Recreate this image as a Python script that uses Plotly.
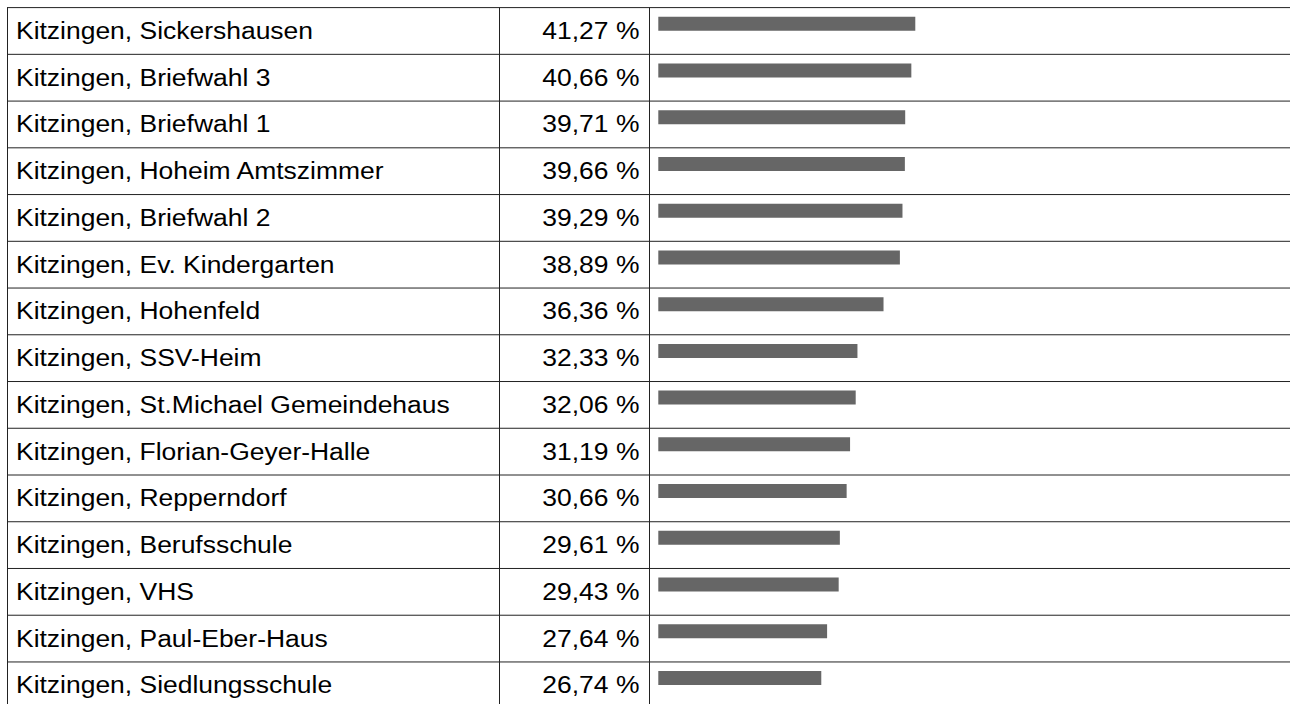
import plotly.graph_objects as go

names = [
    "Kitzingen, Sickershausen",
    "Kitzingen, Briefwahl 3",
    "Kitzingen, Briefwahl 1",
    "Kitzingen, Hoheim Amtszimmer",
    "Kitzingen, Briefwahl 2",
    "Kitzingen, Ev. Kindergarten",
    "Kitzingen, Hohenfeld",
    "Kitzingen, SSV-Heim",
    "Kitzingen, St.Michael Gemeindehaus",
    "Kitzingen, Florian-Geyer-Halle",
    "Kitzingen, Repperndorf",
    "Kitzingen, Berufsschule",
    "Kitzingen, VHS",
    "Kitzingen, Paul-Eber-Haus",
    "Kitzingen, Siedlungsschule",
]
values = [41.27, 40.66, 39.71, 39.66, 39.29, 38.89, 36.36, 32.33,
          32.06, 31.19, 30.66, 29.61, 29.43, 27.64, 26.74]
value_labels = [f"{v:.2f}".replace(".", ",") + " %" for v in values]

W, H = 1290, 704
ROW_H = 46.74
TABLE_TOP = 7.6
BAR_CENTER = 23.7          # px of first bar centre
BAR_H = 14.0
COL_X = [7.5, 499.5, 649.5]
BAR_LEFT = 658.3
PX_PER_PCT = 6.47
X0 = 1.55

n = len(names)
y_top = -BAR_CENTER / ROW_H
y_bot = (H - BAR_CENTER) / ROW_H

fig = go.Figure()
fig.add_trace(go.Bar(
    y=names, x=values, orientation="h",
    marker=dict(color="#666666", line=dict(width=0)),
    width=BAR_H / ROW_H,
    hoverinfo="skip",
))

font = dict(family="Liberation Sans, Arial, sans-serif", size=23, color="#000000")
line_col = "#222222"

shapes = []
off_line = (TABLE_TOP - BAR_CENTER) / ROW_H
for i in range(n + 1):
    yy = i + off_line
    shapes.append(dict(type="line", xref="paper", yref="y",
                       x0=(COL_X[0] - 0.5) / W, x1=1.0, y0=yy, y1=yy,
                       line=dict(color=line_col, width=1)))
for cx in COL_X:
    shapes.append(dict(type="line", xref="paper", yref="y",
                       x0=cx / W, x1=cx / W, y0=off_line, y1=n + off_line,
                       line=dict(color=line_col, width=1)))

annotations = []
off_text = (TABLE_TOP + ROW_H / 2 - BAR_CENTER) / ROW_H
for i, (nm, lab) in enumerate(zip(names, value_labels)):
    annotations.append(dict(xref="paper", yref="y", x=14 / W, y=i + off_text,
                            text=nm, showarrow=False, xanchor="left", align="left",
                            yanchor="middle", font=font))
    annotations.append(dict(xref="paper", yref="y", x=641 / W, y=i + off_text,
                            text=lab, showarrow=False, xanchor="right", align="right",
                            yanchor="middle", font=font))

fig.update_layout(
    width=W, height=H,
    margin=dict(l=0, r=0, t=0, b=0),
    paper_bgcolor="white", plot_bgcolor="white",
    showlegend=False,
    xaxis=dict(domain=[BAR_LEFT / W, 1.0], range=[X0, X0 + (W - BAR_LEFT) / PX_PER_PCT],
               visible=False, fixedrange=True),
    yaxis=dict(domain=[0, 1], type="category", categoryorder="array",
               categoryarray=names, range=[y_bot, y_top], visible=False,
               fixedrange=True),
    shapes=shapes,
    annotations=annotations,
)

post_js = """
document.body.style.margin = '0';
var gd = document.getElementById('{plot_id}');
gd.querySelectorAll('text.annotation-text').forEach(function (t) {
    var L = t.getComputedTextLength();
    t.setAttribute('lengthAdjust', 'spacingAndGlyphs');
    t.setAttribute('textLength', (L * 1.15).toFixed(2));
});
"""

fig.write_html("out.html", config={"displayModeBar": False}, post_script=post_js)
